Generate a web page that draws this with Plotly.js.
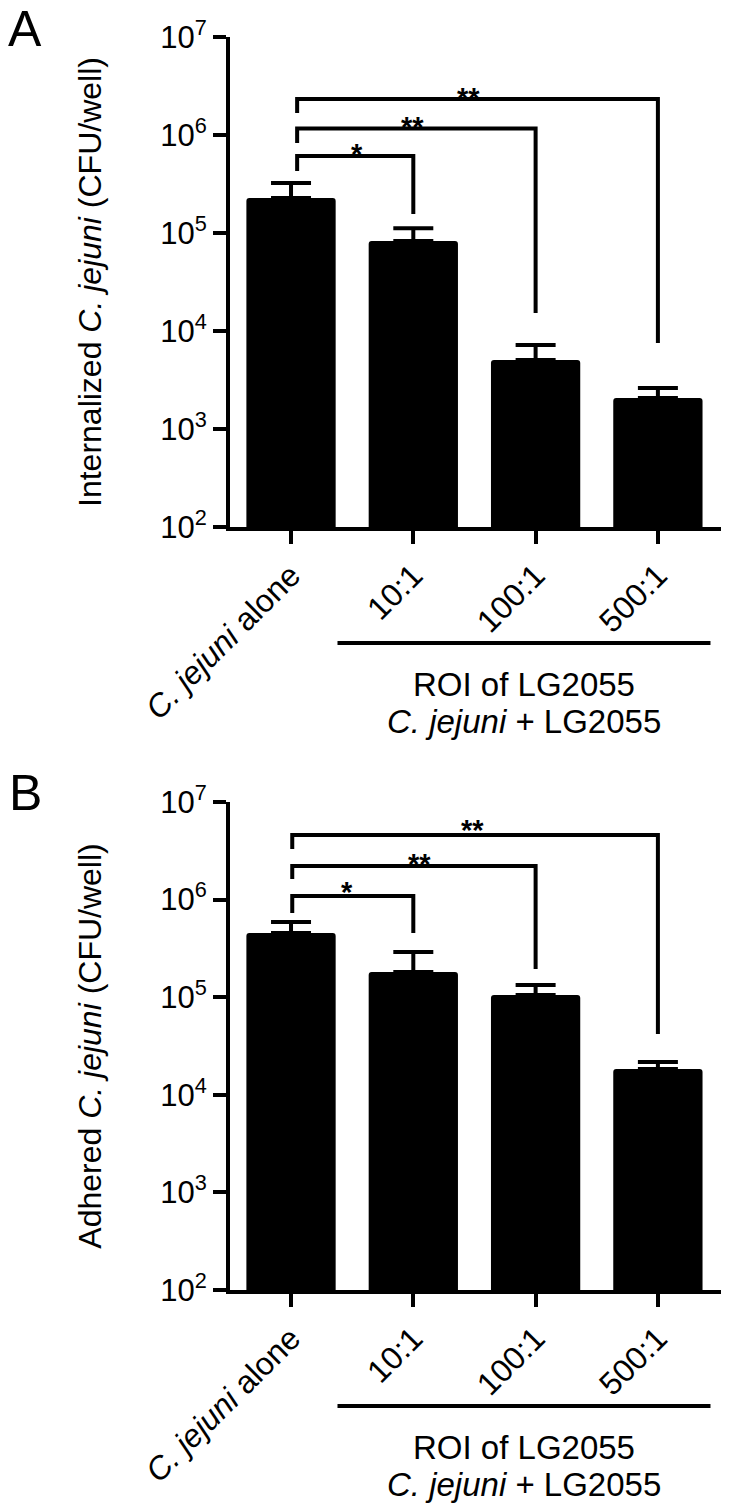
<!DOCTYPE html>
<html><head><meta charset="utf-8">
<script src="https://cdn.plot.ly/plotly-3.0.1.min.js"></script>
<style>html,body{margin:0;padding:0;background:#fff}</style>
</head><body><div id="chart" style="width:730px;height:1512px"></div>
<script>
// ---- data ----
const categories = ['<i>C. jejuni</i> alone', '10:1', '100:1', '500:1'];
const internalized = [2.28e5, 8.3e4, 5.06e3, 2.07e3];
const internalizedErr = [9.6e4, 2.9e4, 2.14e3, 5.5e2];
const adhered = [4.55e5, 1.81e5, 1.05e5, 1.84e4];
const adheredErr = [1.35e5, 1.09e5, 2.8e4, 3.3e3];
const yTickVals = [1e2, 1e3, 1e4, 1e5, 1e6, 1e7];
const yTickText = ['10<sup>2</sup>', '10<sup>3</sup>', '10<sup>4</sup>', '10<sup>5</sup>', '10<sup>6</sup>', '10<sup>7</sup>'];
const comparisons = [[0, 1], [0, 2], [0, 3]];
const sigA = ['*', '**', '**'];
const sigB = ['*', '**', '**'];
const groupLabel1 = 'ROI of LG2055';
const groupLabel2 = '<i>C. jejuni</i> + LG2055';

// ---- bracket geometry (log10 positions) ----
const geomA = [
  {x0: 0.05, level: 5.786, leftEnd: 5.633, rightEnd: 5.194, sx: 0.54, sy: 5.878},
  {x0: 0.05, level: 6.066, leftEnd: 5.918, rightEnd: 4.184, sx: 0.99, sy: 6.153},
  {x0: 0.05, level: 6.367, leftEnd: 6.224, rightEnd: 3.878, sx: 1.45, sy: 6.449}
];
const geomB = [
  {x0: 0.01, level: 6.037, leftEnd: 5.863, rightEnd: 5.658, sx: 0.46, sy: 6.150},
  {x0: 0.01, level: 6.344, leftEnd: 6.211, rightEnd: 5.289, sx: 1.05, sy: 6.436},
  {x0: 0.01, level: 6.662, leftEnd: 6.518, rightEnd: 4.623, sx: 1.48, sy: 6.785}
];

const FONT = 'Liberation Sans, Arial, Helvetica, sans-serif';
const xPos = categories.map((_, i) => i);

function barTrace(vals, errs, xa, ya) {
  return {
    type: 'bar', x: xPos, y: vals, xaxis: xa, yaxis: ya, width: 0.73,
    marker: {color: '#000', line: {width: 0}, cornerradius: 3},
    error_y: {type: 'data', symmetric: false, array: errs, arrayminus: errs.map(() => 0),
              thickness: 4, width: 20, color: '#000'},
    showlegend: false, hoverinfo: 'skip'
  };
}
function bracketTraces(geom, xa, ya) {
  return geom.map((g, i) => {
    const to = comparisons[i][1];
    return {
      type: 'scatter', mode: 'lines', xaxis: xa, yaxis: ya,
      x: [g.x0, g.x0, to, to],
      y: [Math.pow(10, g.leftEnd), Math.pow(10, g.level), Math.pow(10, g.level), Math.pow(10, g.rightEnd)],
      line: {color: '#000', width: 4}, showlegend: false, hoverinfo: 'skip'
    };
  });
}
function starAnn(geom, sig, xa, ya) {
  return geom.map((g, i) => ({
    xref: xa, yref: ya, x: g.sx, y: g.sy, text: sig[i], showarrow: false,
    xanchor: 'center', yanchor: 'middle', yshift: -7,
    font: {family: FONT, size: 29, color: '#000', weight: 'bold'}
  }));
}

const data = [
  barTrace(internalized, internalizedErr, 'x', 'y'),
  barTrace(adhered, adheredErr, 'x2', 'y2'),
  ...bracketTraces(geomA, 'x', 'y'),
  ...bracketTraces(geomB, 'x2', 'y2')
];

const xCommon = {
  range: [-0.499, 3.516], tickvals: xPos, ticktext: categories, tickangle: -45,
  ticks: 'outside', ticklen: 13, tickwidth: 4, tickcolor: '#000',
  showline: true, linewidth: 4, linecolor: '#000', showgrid: false, zeroline: false,
  tickfont: {family: FONT, size: 32, color: '#000'}, fixedrange: true
};
const yCommon = {
  type: 'log', range: [2, 7], tickvals: yTickVals, ticktext: yTickText,
  ticks: 'outside', ticklen: 13, tickwidth: 4, tickcolor: '#000',
  showline: true, linewidth: 4, linecolor: '#000', showgrid: false, zeroline: false,
  tickfont: {family: FONT, size: 31, color: '#000'}, fixedrange: true
};

const layout = {
  width: 730, height: 1512,
  margin: {l: 230, r: 9, t: 37, b: 222},
  paper_bgcolor: '#fff', plot_bgcolor: '#fff',
  font: {family: FONT, color: '#000'},
  xaxis: Object.assign({}, xCommon, {domain: [0, 1], anchor: 'y'}),
  xaxis2: Object.assign({}, xCommon, {domain: [0, 1], anchor: 'y2'}),
  yaxis: Object.assign({}, yCommon, {domain: [0.6089, 1], anchor: 'x',
    title: {text: 'Internalized <i>C. jejuni</i> (CFU/well)', font: {family: FONT, size: 32, color: '#000'}, standoff: 50}}),
  yaxis2: Object.assign({}, yCommon, {domain: [0, 0.3895], anchor: 'x2',
    title: {text: 'Adhered <i>C. jejuni</i> (CFU/well)', font: {family: FONT, size: 32, color: '#000'}, standoff: 50}}),
  shapes: [
    {type: 'line', xref: 'x', yref: 'paper', x0: 0.38, x1: 3.43, y0: 0.5164, y1: 0.5164, line: {color: '#000', width: 4}},
    {type: 'line', xref: 'x2', yref: 'paper', x0: 0.38, x1: 3.43, y0: -0.0926, y1: -0.0926, line: {color: '#000', width: 4}}
  ],
  annotations: [
    {xref: 'paper', yref: 'paper', x: -0.4175, y: 1.006, text: 'A', showarrow: false, xanchor: 'center', yanchor: 'middle', font: {family: FONT, size: 50, color: '#000'}},
    {xref: 'paper', yref: 'paper', x: -0.4175, y: 0.397, text: 'B', showarrow: false, xanchor: 'center', yanchor: 'middle', font: {family: FONT, size: 50, color: '#000'}},
    {xref: 'x', yref: 'paper', x: 1.905, y: 0.4832, text: groupLabel1, showarrow: false, xanchor: 'center', yanchor: 'middle', font: {family: FONT, size: 33, color: '#000'}},
    {xref: 'x', yref: 'paper', x: 1.905, y: 0.4535, text: groupLabel2, showarrow: false, xanchor: 'center', yanchor: 'middle', font: {family: FONT, size: 33, color: '#000'}},
    {xref: 'x2', yref: 'paper', x: 1.905, y: -0.1257, text: groupLabel1, showarrow: false, xanchor: 'center', yanchor: 'middle', font: {family: FONT, size: 33, color: '#000'}},
    {xref: 'x2', yref: 'paper', x: 1.905, y: -0.1554, text: groupLabel2, showarrow: false, xanchor: 'center', yanchor: 'middle', font: {family: FONT, size: 33, color: '#000'}},
    ...starAnn(geomA, sigA, 'x', 'y'),
    ...starAnn(geomB, sigB, 'x2', 'y2')
  ]
};

Plotly.newPlot('chart', data, layout, {displayModeBar: false, staticPlot: true});
</script></body></html>
